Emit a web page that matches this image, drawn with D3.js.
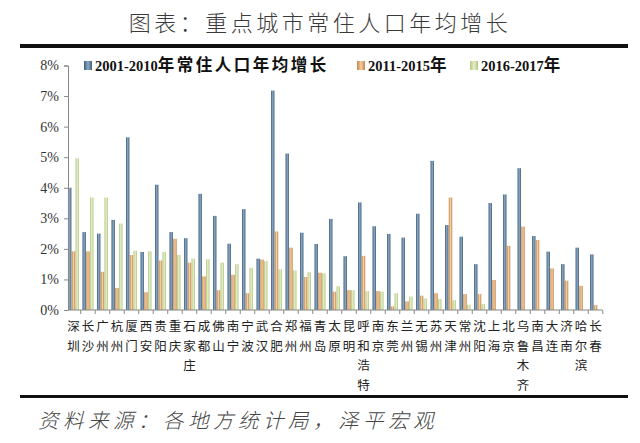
<!DOCTYPE html>
<html>
<head>
<meta charset="utf-8">
<script src="https://cdn.jsdelivr.net/npm/d3@7"></script>
<style>
  body { margin: 0; background: #fff; }
  svg { display: block; }
</style>
</head>
<body>
<div class="container"></div>
<script>
const width = 640;
const height = 443;

const cities = ['深圳','长沙','广州','杭州','厦门','西安','贵阳','重庆','石家庄','成都','佛山','南宁','宁波','武汉','合肥','郑州','福州','青岛','太原','昆明','呼和浩特','南京','东莞','兰州','无锡','苏州','天津','常州','沈阳','上海','北京','乌鲁木齐','南昌','大连','济南','哈尔滨','长春'];

const growth0110 = [4.0, 2.55, 2.5, 2.95, 5.65, 1.9, 4.1, 2.55, 2.35, 3.8, 3.08, 2.17, 3.3, 1.68, 7.18, 5.12, 2.53, 2.16, 2.98, 1.76, 3.52, 2.74, 2.49, 2.37, 3.15, 4.88, 2.78, 2.4, 1.5, 3.5, 3.78, 4.64, 2.42, 1.91, 1.5, 2.04, 1.82];
const growth1115 = [1.92, 1.92, 1.25, 0.72, 1.8, 0.58, 1.62, 2.33, 1.55, 1.1, 0.65, 1.15, 0.55, 1.65, 2.57, 2.04, 1.08, 1.22, 0.6, 0.65, 1.77, 0.62, 0.12, 0.28, 0.47, 0.55, 3.68, 0.52, 0.52, 0.98, 2.1, 2.73, 2.29, 1.36, 0.96, 0.79, 0.16];
const growth1617 = [4.96, 3.68, 3.68, 2.83, 1.94, 1.92, 1.9, 1.8, 1.68, 1.66, 1.55, 1.5, 1.38, 1.6, 1.33, 1.3, 1.24, 1.2, 0.78, 0.65, 0.62, 0.6, 0.55, 0.44, 0.38, 0.36, 0.32, 0.17, 0.2, null, null, null, null, null, null, null, null];

const seriesNames = ['2001-2010年常住人口年均增长', '2011-2015年', '2016-2017年'];
const yTicks = [0, 1, 2, 3, 4, 5, 6, 7, 8];

const colors = [
  ['#3f5f7e', '#8ea9c2', '#3f5f7e'],
  ['#c48447', '#f2cfa3', '#c48447'],
  ['#b2c67e', '#e8efcc', '#b2c67e']
];

const svg = d3.select('.container')
  .append('svg')
  .attr('width', width)
  .attr('height', height);

const defs = svg.append('defs');
colors.forEach((c, i) => {
  const g = defs.append('linearGradient')
    .attr('id', 'grad' + i)
    .attr('x1', '0%').attr('x2', '100%')
    .attr('y1', '0%').attr('y2', '0%');
  g.append('stop').attr('offset', '0%').attr('stop-color', c[0]);
  g.append('stop').attr('offset', '50%').attr('stop-color', c[1]);
  g.append('stop').attr('offset', '100%').attr('stop-color', c[2]);
});

// title
svg.append('text')
  .attr('x', 320)
  .attr('y', 31)
  .attr('text-anchor', 'middle')
  .attr('font-family', 'Noto Sans CJK SC')
  .attr('font-weight', 300)
  .attr('font-size', 22)
  .attr('letter-spacing', 3.5)
  .attr('fill', '#3a3a3a')
  .text('图表：重点城市常住人口年均增长');

svg.append('rect')
  .attr('x', 20).attr('y', 44)
  .attr('width', 608).attr('height', 4)
  .attr('fill', '#111');

const x = d3.scaleBand()
  .domain(cities)
  .range([66.5, 602.5])
  .paddingInner(0.2)
  .paddingOuter(0.08);

const xSub = d3.scaleBand()
  .domain([0, 1, 2])
  .range([0, x.bandwidth()])
  .padding(0.08);

const y = d3.scaleLinear()
  .domain([0, 8])
  .range([310, 65.5]);

const series = [growth0110, growth1115, growth1617];

const groups = svg.append('g')
  .selectAll('g')
  .data(series)
  .enter()
  .append('g')
  .attr('fill', (d, i) => 'url(#grad' + i + ')');

groups.each(function(values, si) {
  d3.select(this).selectAll('rect')
    .data(values.map((v, i) => ({ city: cities[i], v })).filter(d => d.v != null))
    .enter()
    .append('rect')
    .attr('x', d => x(d.city) + xSub(si))
    .attr('y', d => y(d.v))
    .attr('width', xSub.bandwidth())
    .attr('height', d => y(0) - y(d.v));
});

// y axis
const yAxis = svg.append('g')
  .attr('transform', 'translate(68,0)')
  .call(d3.axisLeft(y).tickValues(yTicks).tickSize(4).tickFormat(d => d + '%'));
yAxis.select('.domain').attr('stroke', '#888');
yAxis.selectAll('.tick line').attr('stroke', '#888');
yAxis.selectAll('text')
  .attr('font-family', 'Liberation Serif')
  .attr('font-size', 14)
  .attr('fill', '#333')
  .attr('x', -9);

// x axis
const xAxis = svg.append('g')
  .attr('transform', 'translate(0,310)');
xAxis.append('line')
  .attr('x1', 68).attr('x2', 602.5)
  .attr('stroke', '#888');
xAxis.selectAll('.tk')
  .data(cities)
  .enter()
  .append('line')
  .attr('x1', d => x(d) + x.bandwidth() + x.step() * x.paddingInner() / 2)
  .attr('x2', d => x(d) + x.bandwidth() + x.step() * x.paddingInner() / 2)
  .attr('y1', 0).attr('y2', 4)
  .attr('stroke', '#888');

const labels = svg.append('g')
  .selectAll('text')
  .data(cities)
  .enter()
  .append('text')
  .attr('font-family', 'Noto Sans CJK SC')
  .attr('font-size', 12.5)
  .attr('fill', '#222')
  .attr('text-anchor', 'middle');

labels.each(function(d) {
  const cx = x(d) + x.bandwidth() / 2;
  d3.select(this).selectAll('tspan')
    .data(d.split(''))
    .enter()
    .append('tspan')
    .attr('x', cx)
    .attr('y', (c, i) => 331 + i * 19.5)
    .text(c => c);
});

// legend
const legendX = [84, 357, 470];
const legend = svg.append('g')
  .selectAll('g')
  .data(seriesNames)
  .enter()
  .append('g')
  .attr('transform', (d, i) => 'translate(' + legendX[i] + ',61)');
legend.append('rect')
  .attr('width', 8).attr('height', 9)
  .attr('fill', (d, i) => 'url(#grad' + i + ')');
const legendText = legend.append('text')
  .attr('x', 11)
  .attr('y', 10)
  .attr('font-weight', 'bold')
  .attr('fill', '#111');
legendText.each(function(d) {
  const parts = d.match(/[0-9\-]+|[^0-9\-]+/g);
  d3.select(this).selectAll('tspan')
    .data(parts)
    .enter()
    .append('tspan')
    .attr('font-family', p => /[0-9]/.test(p) ? 'Liberation Serif' : 'Noto Sans CJK SC')
    .attr('font-size', p => /[0-9]/.test(p) ? 14.5 : 16.5)
    .attr('letter-spacing', p => /[0-9]/.test(p) ? 0 : 2.5)
    .text(p => p);
});

// bottom rule and source
svg.append('rect')
  .attr('x', 20).attr('y', 395)
  .attr('width', 608).attr('height', 3)
  .attr('fill', '#111');

svg.append('text')
  .attr('x', 38)
  .attr('y', 428)
  .attr('font-family', 'Noto Sans CJK SC')
  .attr('font-weight', 300)
  .attr('font-style', 'italic')
  .attr('font-size', 20.5)
  .attr('letter-spacing', 4.5)
  .attr('fill', '#444')
  .text('资料来源：各地方统计局，泽平宏观');
</script>
</body>
</html>
